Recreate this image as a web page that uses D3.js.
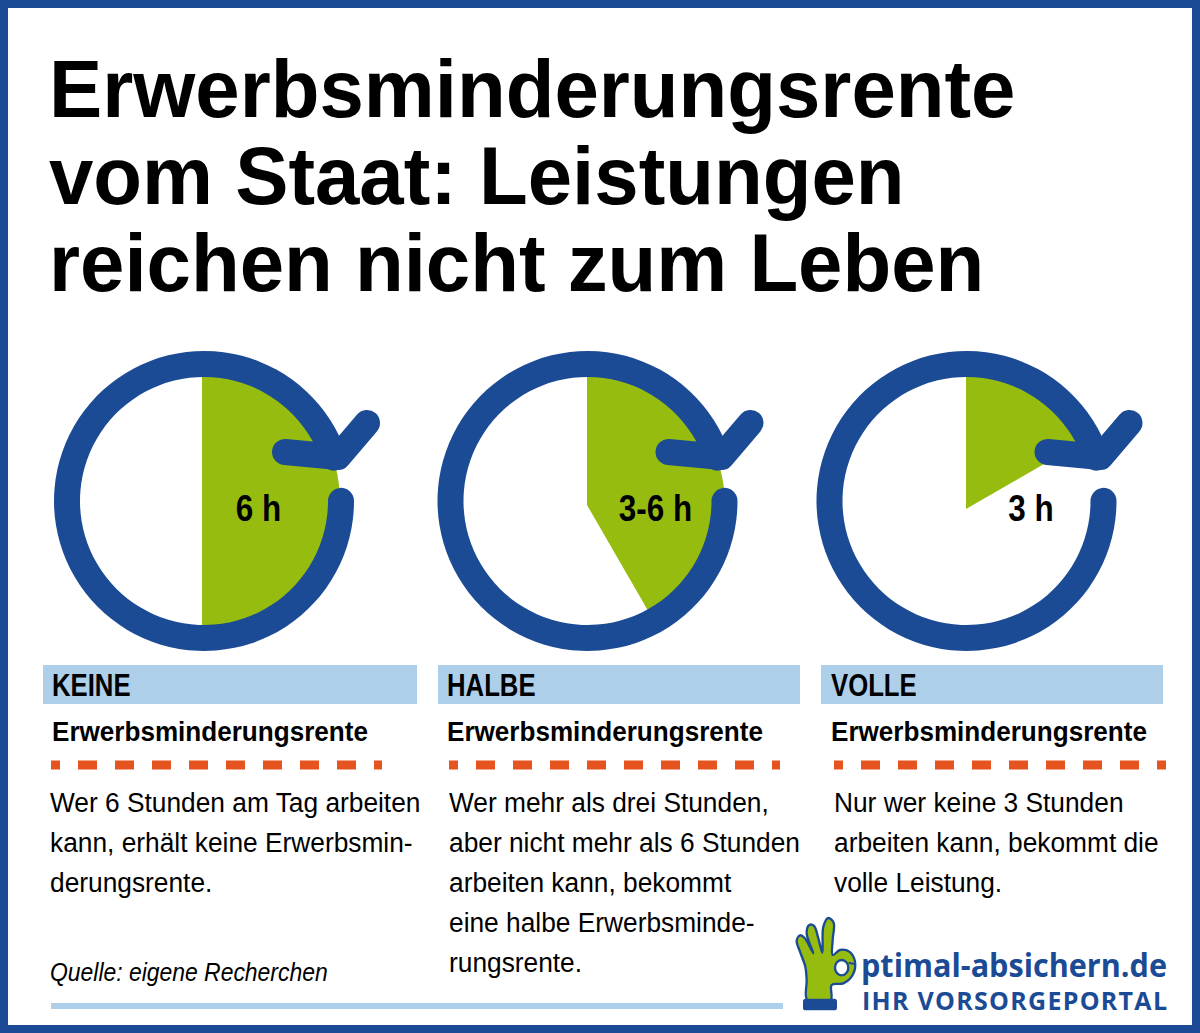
<![CDATA[<!DOCTYPE html>
<html lang="de">
<head>
	<meta charset="utf-8">
	<title>Erwerbsminderungsrente</title>
	<script src="https://d3js.org/d3.v7.min.js"></script>
	<style>
		html, body { margin: 0; padding: 0; background: #fff; }
		svg { display: block; }
		text { font-family: "Liberation Sans", Arial, sans-serif; fill: #000; }
	</style>
</head>
<body>
<script>
// Data read from the picture
var titleLines = ["Erwerbsminderungsrente", "vom Staat: Leistungen", "reichen nicht zum Leben"];
var categories = ["KEINE", "HALBE", "VOLLE"];
var subtitle = "Erwerbsminderungsrente";
var clockLabels = ["6 h", "3-6 h", "3 h"];
var wedgeHours = [6, 5, 2]; // size of the green wedge on a 12 hour clock face
var bodyLines = [
	["Wer 6 Stunden am Tag arbeiten", "kann, erhält keine Erwerbsmin-", "derungsrente."],
	["Wer mehr als drei Stunden,", "aber nicht mehr als 6 Stunden", "arbeiten kann, bekommt", "eine halbe Erwerbsminde-", "rungsrente."],
	["Nur wer keine 3 Stunden", "arbeiten kann, bekommt die", "volle Leistung."]
];
var source = "Quelle: eigene Recherchen";
var logoName = "ptimal-absichern.de";
var logoClaim = "IHR VORSORGEPORTAL";

// Layout
var w = 1200, h = 1033;
var blue = "#1c4b96", green = "#96bc0f", lightBlue = "#aecfe9", orange = "#e5531f";
var ringX = [204, 587.5, 966.5], ringY = 501;
var wedgeX = [202, 587, 966], wedgeDy = [0, 4, 8];
var labelX = [258.5, 655.5, 1031];
var boxX = [43, 438, 821], boxW = [374, 362, 342];
var headX = [52, 447, 831];
var dashX = [51, 449, 834], dashW = [331, 331, 332];
var bodyX = [50, 449, 834];

var svg = d3.select("body").append("svg").attr("width", w).attr("height", h);

svg.append("rect").attr("width", w).attr("height", h).attr("fill", "#fff");

// Frame
svg.append("rect")
	.attr("x", 4).attr("y", 4)
	.attr("width", w - 8).attr("height", h - 8)
	.attr("fill", "none").attr("stroke", blue).attr("stroke-width", 8);

// squeezed text, the original uses a narrowed Arial
function addText(parent, str, x, y, size, stretch, weight) {
	return parent.append("text")
		.attr("transform", "translate(" + x + "," + y + ") scale(" + stretch + ",1)")
		.attr("font-size", size)
		.attr("font-weight", weight || "normal")
		.text(str);
}

// Title
var titleY = d3.scaleLinear().domain([0, 2]).range([117, 291]);
titleLines.forEach(function(d, i) {
	addText(svg, d, 49, titleY(i), 82, 0.973, "bold");
});

// Clocks
var angle = d3.scaleLinear().domain([0, 12]).range([0, 2 * Math.PI]);
var wedge = d3.arc().innerRadius(0).outerRadius(138);
var ring = d3.arc().innerRadius(124).outerRadius(150).cornerRadius(13);
var arrow = d3.line();

var clocks = svg.selectAll(".clock")
	.data(categories)
	.enter()
	.append("g")
	.attr("class", "clock");

clocks.append("path")
	.attr("transform", function(d, i) { return "translate(" + wedgeX[i] + "," + (ringY + wedgeDy[i]) + ")"; })
	.attr("d", function(d, i) { return wedge({ startAngle: 0, endAngle: angle(wedgeHours[i]) }); })
	.attr("fill", green);

clocks.append("path")
	.attr("transform", function(d, i) { return "translate(" + ringX[i] + "," + ringY + ")"; })
	.attr("d", ring({ startAngle: 84.5 * Math.PI / 180, endAngle: 437 * Math.PI / 180 }))
	.attr("fill", blue);

clocks.append("path")
	.attr("transform", function(d, i) { return "translate(" + ringX[i] + "," + ringY + ")"; })
	.attr("d", arrow([[81, -49], [134, -44], [163, -78]]))
	.attr("fill", "none")
	.attr("stroke", blue)
	.attr("stroke-width", 26)
	.attr("stroke-linecap", "round")
	.attr("stroke-linejoin", "round");

clockLabels.forEach(function(d, i) {
	addText(svg, d, labelX[i], 521, 37, 0.85, "bold").attr("text-anchor", "middle");
});

// Column heads
boxX.forEach(function(x, i) {
	svg.append("rect")
		.attr("x", x).attr("y", 665)
		.attr("width", boxW[i]).attr("height", 39)
		.attr("fill", lightBlue);
	addText(svg, categories[i], headX[i], 696, 31, 0.83, "bold");
	addText(svg, subtitle, headX[i], 741, 28, 0.932, "bold");
	svg.append("line")
		.attr("x1", dashX[i]).attr("x2", dashX[i] + dashW[i])
		.attr("y1", 765).attr("y2", 765)
		.attr("stroke", orange)
		.attr("stroke-width", 9)
		.attr("stroke-dasharray", "19 18")
		.attr("stroke-dashoffset", 10);
	bodyLines[i].forEach(function(line, j) {
		addText(svg, line, bodyX[i], 812 + j * 40, 28, 0.94);
	});
});

// Source and rule
addText(svg, source, 50, 981, 25, 0.917).attr("font-style", "italic");
svg.append("rect")
	.attr("x", 51).attr("y", 1003)
	.attr("width", 732).attr("height", 6)
	.attr("fill", lightBlue);

// Logo, the hand is traced in 3x units
var hand = svg.append("g").attr("transform", "translate(790,910) scale(0.3333)");
var handOutline = d3.line().curve(d3.curveCatmullRomClosed.alpha(0.5));
hand.append("path")
	.attr("d", handOutline([
		[52, 270], [50, 210], [46, 170], [30, 125], [20, 92], [30, 76], [44, 84], [70, 130],
		[50, 70], [58, 45], [72, 48], [85, 85], [97, 128],
		[100, 50], [115, 24], [131, 38], [128, 90], [128, 135],
		[150, 120], [178, 125], [195, 155], [188, 195], [160, 220], [125, 225], [122, 270]
	]))
	.attr("fill", green).attr("stroke", blue).attr("stroke-width", 7).attr("stroke-linejoin", "round");
hand.append("ellipse").attr("cx", 155).attr("cy", 173).attr("rx", 20).attr("ry", 23)
	.attr("fill", "#fff").attr("stroke", blue).attr("stroke-width", 7);
hand.append("path").attr("d", arrow([[176, 158], [192, 162]]))
	.attr("stroke", blue).attr("stroke-width", 6).attr("fill", "none");
hand.append("rect").attr("x", 39).attr("y", 266).attr("width", 102).attr("height", 35).attr("rx", 8)
	.attr("fill", blue);

svg.append("text").attr("x", 861).attr("y", 977)
	.style("font-family", "'Open Sans', sans-serif")
	.attr("font-size", 33).attr("font-weight", "bold").style("fill", blue)
	.attr("textLength", 306).attr("lengthAdjust", "spacingAndGlyphs")
	.text(logoName);
svg.append("text").attr("x", 862).attr("y", 1010)
	.style("font-family", "'Open Sans', sans-serif")
	.attr("font-size", 25).attr("font-weight", "bold").style("fill", blue)
	.attr("textLength", 305)
	.text(logoClaim);
</script>
</body>
</html>
]]>
